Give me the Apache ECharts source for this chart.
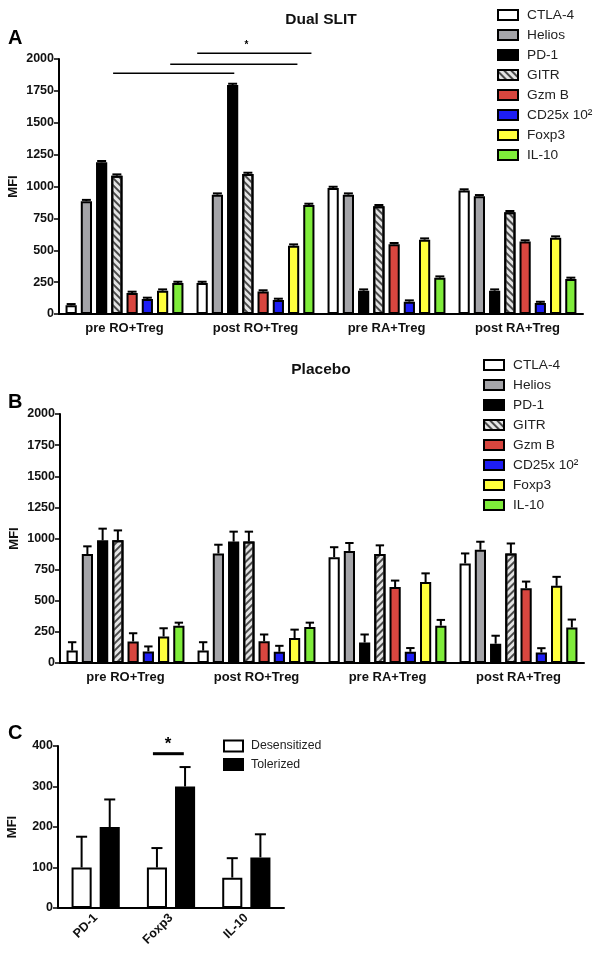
<!DOCTYPE html>
<html>
<head>
<meta charset="utf-8">
<title>MFI - Dual SLIT / Placebo</title>
<script src="https://cdn.jsdelivr.net/npm/echarts@6/dist/echarts.min.js"></script>
<style>
  html, body { margin: 0; padding: 0; background: #fff; }
  #chart { width: 600px; height: 954px; }
</style>
</head>
<body>
<div id="chart"></div>
<script>
// categories
const markers = ['CTLA-4', 'Helios', 'PD-1', 'GITR', 'Gzm B', 'CD25x 10²', 'Foxp3', 'IL-10']
const groups = ['pre RO+Treg', 'post RO+Treg', 'pre RA+Treg', 'post RA+Treg']
const cMarkers = ['PD-1', 'Foxp3', 'IL-10']

// panel A - Dual SLIT (rows = markers, columns = groups)
const dualMfi = [
  [68, 243, 988, 968],
  [885, 936, 936, 923],
  [1190, 1796, 183, 183],
  [1085, 1098, 845, 798],
  [165, 176, 547, 568],
  [118, 110, 97, 86],
  [183, 536, 583, 599],
  [243, 855, 285, 275]
]
const dualSem = [
  [10, 10, 10, 10],
  [10, 10, 10, 10],
  [10, 10, 10, 10],
  [10, 10, 10, 10],
  [10, 10, 10, 10],
  [10, 10, 10, 10],
  [10, 10, 10, 10],
  [10, 10, 10, 10]
]

// panel B - Placebo
const placeboMfi = [
  [100, 100, 850, 800],
  [875, 880, 900, 910],
  [985, 975, 165, 155],
  [985, 975, 875, 880],
  [173, 175, 610, 600],
  [93, 90, 90, 85],
  [213, 200, 650, 620],
  [300, 290, 300, 285]
]
const placeboSem = [
  [67, 67, 80, 80],
  [62, 70, 64, 64],
  [94, 80, 64, 64],
  [80, 80, 70, 80],
  [66, 54, 52, 54],
  [40, 48, 30, 34],
  [66, 68, 70, 72],
  [24, 34, 46, 64]
]

// panel C
const desensitizedMfi = [100, 100, 75]
const desensitizedSem = [76, 48, 48]
const tolerizedMfi = [200, 300, 125]
const tolerizedSem = [68, 48, 57]

// significance brackets: [from, to, MFI] in category units
const dualBrackets = [[0.413, 1.338, 1888], [0.849, 1.82, 1958], [1.055, 1.927, 2045]]
const dualStars = [[1.43, 2105]]
const cBrackets = [[1.26, 1.67, 381]]
const cStars = [[1.46, 403]]

const FONT = 'Liberation Sans, Arial, Helvetica, sans-serif'
const fills = ['#ffffff', '#a4a4a8', '#000000', '#e4e4e4', '#d8463f', '#1e1ef5', '#ffff3c', '#7fec3a']

function hatch(rot) {
  return {
    symbol: 'rect', symbolSize: 1, dashArrayX: [1, 0], dashArrayY: [1.4, 2.2],
    rotation: rot, color: '#4a4a4a'
  }
}

function barStyle(i, rot) {
  const s = { color: fills[i], borderColor: '#000', borderWidth: 2 }
  if (i === 3) s.decal = hatch(rot)
  return s
}

// error bars laid out the same way echarts lays out grouped bars
function errorBars(count, barGap, catGap, capRatio) {
  return function (params, api) {
    const band = api.size([1, 0])[0]
    const w = band * (1 - catGap) / (count + (count - 1) * barGap)
    const total = w * count + w * barGap * (count - 1)
    const center = api.coord([api.value(0), 0])[0]
    const x = center - total / 2 + api.value(1) * w * (1 + barGap) + w / 2
    const yTop = api.coord([api.value(0), api.value(2)])[1]
    const yErr = api.coord([api.value(0), api.value(2) + api.value(3)])[1]
    const cap = w * capRatio / 2
    return {
      type: 'group',
      children: [
        { type: 'line', shape: { x1: x, y1: yTop, x2: x, y2: yErr }, style: { stroke: '#000', lineWidth: 2 } },
        { type: 'line', shape: { x1: x - cap, y1: yErr, x2: x + cap, y2: yErr }, style: { stroke: '#000', lineWidth: 2 } }
      ]
    }
  }
}

function bracket(width) {
  return function (params, api) {
    const a = api.coord([api.value(0), api.value(2)])
    const b = api.coord([api.value(1), api.value(2)])
    return { type: 'line', shape: { x1: a[0], y1: a[1], x2: b[0], y2: b[1] }, style: { stroke: '#000', lineWidth: width } }
  }
}

function star(size) {
  return function (params, api) {
    const p = api.coord([api.value(0), api.value(1)])
    return {
      type: 'text', x: p[0], y: p[1],
      style: { text: '*', fill: '#000', font: 'bold ' + size + 'px ' + FONT, textAlign: 'center', textVerticalAlign: 'middle', align: 'center', verticalAlign: 'middle' }
    }
  }
}

function errData(mfi, sem) {
  const out = []
  groups.forEach((g, gi) => {
    mfi.forEach((row, mi) => out.push([gi, mi, row[gi], sem[mi][gi]]))
  })
  return out
}

const cErrData = []
cMarkers.forEach((m, i) => {
  cErrData.push([i, 0, desensitizedMfi[i], desensitizedSem[i]])
  cErrData.push([i, 1, tolerizedMfi[i], tolerizedSem[i]])
})

function catAxis(gridIndex, data, label) {
  return {
    type: 'category', gridIndex, data,
    axisLine: { lineStyle: { color: '#000', width: 2 } },
    axisTick: { alignWithLabel: true, length: 4, lineStyle: { color: '#000', width: 2 } },
    axisLabel: Object.assign({ color: '#111', fontWeight: 'bold', fontSize: 13, margin: 8, fontFamily: FONT }, label),
    splitLine: { show: false }
  }
}

function valAxis(gridIndex, max, interval) {
  return {
    type: 'value', gridIndex, min: 0, max, interval,
    name: 'MFI', nameLocation: 'middle', nameGap: 39, nameRotate: 90, nameMoveOverlap: false,
    nameTextStyle: { color: '#111', fontWeight: 'bold', fontSize: 13, fontFamily: FONT },
    axisLine: { show: true, lineStyle: { color: '#000', width: 2 } },
    axisTick: { show: true, length: 5, lineStyle: { color: '#000', width: 1.5 } },
    axisLabel: { color: '#111', fontWeight: 'bold', fontSize: 12.5, margin: 5, fontFamily: FONT, formatter: v => String(v) },
    splitLine: { show: false }
  }
}

function legendFor(data, left, top, opts) {
  return Object.assign({
    data, orient: 'vertical', left, top, icon: 'rect', selectedMode: false, padding: 0,
    itemWidth: 20, itemHeight: 10, itemGap: 4,
    itemStyle: { borderColor: '#000', borderWidth: 2 },
    textStyle: { color: '#222', fontSize: 13.7, lineHeight: 16, fontFamily: FONT, padding: [0, 0, 0, 4] }
  }, opts)
}

const series = []
markers.forEach((name, i) => {
  series.push({
    type: 'bar', name, xAxisIndex: 0, yAxisIndex: 0, data: dualMfi[i],
    barGap: '36%', barCategoryGap: '10%', itemStyle: barStyle(i, Math.PI / 4)
  })
  series.push({
    type: 'bar', name, xAxisIndex: 1, yAxisIndex: 1, data: placeboMfi[i],
    barGap: '36%', barCategoryGap: '10%', itemStyle: barStyle(i, -Math.PI / 4)
  })
})
series.push({
  type: 'bar', name: 'Desensitized', xAxisIndex: 2, yAxisIndex: 2, data: desensitizedMfi,
  barGap: '40%', barCategoryGap: '36%', itemStyle: { color: '#fff', borderColor: '#000', borderWidth: 2 }
})
series.push({
  type: 'bar', name: 'Tolerized', xAxisIndex: 2, yAxisIndex: 2, data: tolerizedMfi,
  barGap: '40%', barCategoryGap: '36%', itemStyle: { color: '#000', borderColor: '#000', borderWidth: 2 }
})
series.push({ type: 'custom', xAxisIndex: 0, yAxisIndex: 0, z: 5, encode: { x: 0, y: 2 }, data: errData(dualMfi, dualSem), renderItem: errorBars(8, 0.36, 0.1, 0.8) })
series.push({ type: 'custom', xAxisIndex: 1, yAxisIndex: 1, z: 5, encode: { x: 0, y: 2 }, data: errData(placeboMfi, placeboSem), renderItem: errorBars(8, 0.36, 0.1, 0.75) })
series.push({ type: 'custom', xAxisIndex: 2, yAxisIndex: 2, z: 5, encode: { x: 0, y: 2 }, data: cErrData, renderItem: errorBars(2, 0.4, 0.36, 0.55) })
series.push({ type: 'custom', xAxisIndex: 3, yAxisIndex: 0, clip: false, encode: { x: [0, 1], y: 2 }, data: dualBrackets, renderItem: bracket(1.5) })
series.push({ type: 'custom', xAxisIndex: 3, yAxisIndex: 0, clip: false, encode: { x: 0, y: 1 }, data: dualStars, renderItem: star(10) })
series.push({ type: 'custom', xAxisIndex: 4, yAxisIndex: 2, clip: false, encode: { x: [0, 1], y: 2 }, data: cBrackets, renderItem: bracket(3) })
series.push({ type: 'custom', xAxisIndex: 4, yAxisIndex: 2, clip: false, encode: { x: 0, y: 1 }, data: cStars, renderItem: star(17) })

const chart = echarts.init(document.getElementById('chart'), null, { renderer: 'canvas' })
chart.setOption({
  animation: false,
  backgroundColor: '#fff',
  grid: [
    { left: 59, top: 59, width: 524, height: 255, outerBoundsMode: 'none', containLabel: false },
    { left: 60, top: 414, width: 524, height: 249, outerBoundsMode: 'none', containLabel: false },
    { left: 58, top: 746, width: 226, height: 162, outerBoundsMode: 'none', containLabel: false }
  ],
  xAxis: [
    catAxis(0, groups),
    catAxis(1, groups),
    catAxis(2, cMarkers, { rotate: 45, fontSize: 12.5, margin: 8 }),
    { type: 'value', gridIndex: 0, min: 0, max: 4, show: false },
    { type: 'value', gridIndex: 2, min: 0, max: 3, show: false }
  ],
  yAxis: [
    valAxis(0, 2000, 250),
    valAxis(1, 2000, 250),
    valAxis(2, 400, 100)
  ],
  legend: [
    legendFor(markers, 497, 7),
    legendFor(markers, 483, 357),
    legendFor(['Desensitized', 'Tolerized'], 223, 739, {
      itemWidth: 19, itemHeight: 11, itemGap: 4.5,
      textStyle: { color: '#222', fontSize: 12.3, lineHeight: 14, fontFamily: FONT, padding: [0, 0, 0, 3] }
    })
  ],
  graphic: [
    { type: 'text', x: 321, y: 19.5, style: { text: 'Dual SLIT', fill: '#111', font: 'bold 15.5px ' + FONT, textAlign: 'center', textVerticalAlign: 'middle' } },
    { type: 'text', x: 321, y: 370, style: { text: 'Placebo', fill: '#111', font: 'bold 15.5px ' + FONT, textAlign: 'center', textVerticalAlign: 'middle' } },
    { type: 'text', x: 8, y: 38, style: { text: 'A', fill: '#000', font: 'bold 20px ' + FONT, textVerticalAlign: 'middle' } },
    { type: 'text', x: 8, y: 402, style: { text: 'B', fill: '#000', font: 'bold 20px ' + FONT, textVerticalAlign: 'middle' } },
    { type: 'text', x: 8, y: 733, style: { text: 'C', fill: '#000', font: 'bold 20px ' + FONT, textVerticalAlign: 'middle' } }
  ],
  series
})
</script>
</body>
</html>
